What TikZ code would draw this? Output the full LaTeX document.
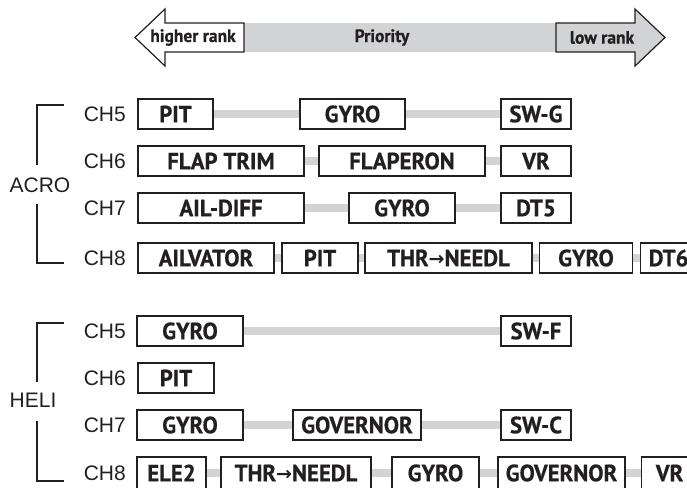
\documentclass[tikz,border=0pt]{standalone}
\usepackage{fontspec}
\usepackage{tikz}
\usetikzlibrary{positioning}
\newfontfamily\boxfont[FakeStretch=0.97,BoldFeatures={FakeBold=0.6}]{PT Sans}
\newfontfamily\labfont{Liberation Sans}
\newfontfamily\symfont{DejaVu Sans}
\definecolor{BarGray}{HTML}{D1D3D4}
\definecolor{InkDark}{HTML}{231F20}
\newcommand{\thrarrow}{{\symfont\fontsize{19}{19}\selectfont\raisebox{0.5pt}{→}}}

\begin{document}
\begin{tikzpicture}[
  x=1pt,y=-1pt,
  every node/.style={text=InkDark},
  fbox/.style={draw=InkDark,line width=1.2pt,fill=white,minimum height=30,
    inner sep=0pt,font=\boxfont\bfseries\fontsize{23.5}{23.5}\selectfont},
  lastrow/.style={minimum height=32},
  chlab/.style={anchor=east,inner sep=0pt,font=\labfont\fontsize{21}{21}\selectfont},
  modelab/.style={inner sep=0pt,font=\labfont\fontsize{21}{21}\selectfont},
  ranklab/.style={inner sep=0pt,font=\boxfont\bfseries\fontsize{18}{18}\selectfont},
  bar/.style={BarGray,line width=8pt},
  brk/.style={InkDark,line width=1.2pt}
]
\useasboundingbox (0,0) rectangle (687,487);
\clip (0,0) rectangle (687,487);

% priority arrow
\fill[BarGray] (244,23) rectangle (556,52);
\draw[InkDark,line width=1.2pt,fill=white]
  (244,23) -- (165,23) -- (165,9) -- (135,37.5) -- (165,66) -- (165,52) -- (244,52) -- cycle;
\draw[InkDark,line width=1.2pt,fill=BarGray]
  (556,23) -- (635,23) -- (635,9) -- (665,37.5) -- (635,66) -- (635,52) -- (556,52) -- cycle;
\node[ranklab] (hi) at (193,37.5) {higher rank};
\node[ranklab] (prio) at (382,37.5) {Priority};
\node[ranklab] (lo) at (602,37.5) {low rank};

% ACRO
\node[modelab] (acro) at (40,185) {ACRO};
\draw[brk] (64,105) -- (37,105) -- (37,165);
\draw[brk] (37,204) -- (37,263) -- (64,263);
\node[chlab] (a5) at (126,114) {CH5};
\node[chlab] (a6) at (126,161) {CH6};
\node[chlab] (a7) at (126,208) {CH7};
\node[chlab] (a8) at (126,258) {CH8};

\node[fbox,minimum width=75] (a5pit) at (175.5,114) {PIT};
\node[fbox,minimum width=105] (a5gyro) at (352.5,114) {GYRO};
\node[fbox,minimum width=70] (a5swg) at (536,114) {SW-G};
\draw[bar] (a5pit) -- (a5gyro); \draw[bar] (a5gyro) -- (a5swg);

\node[fbox,minimum width=166] (a6trim) at (221,161) {FLAP TRIM};
\node[fbox,minimum width=166] (a6flap) at (402,161) {FLAPERON};
\node[fbox,minimum width=70] (a6vr) at (536,161) {VR};
\draw[bar] (a6trim) -- (a6flap); \draw[bar] (a6flap) -- (a6vr);

\node[fbox,minimum width=166] (a7diff) at (221,208) {AIL-DIFF};
\node[fbox,minimum width=106] (a7gyro) at (402,208) {GYRO};
\node[fbox,minimum width=70] (a7dt5) at (536,208) {DT5};
\draw[bar] (a7diff) -- (a7gyro); \draw[bar] (a7gyro) -- (a7dt5);

\node[fbox,minimum width=136] (a8ailv) at (206,258) {AILVATOR};
\node[fbox,minimum width=76] (a8pit) at (320,258) {PIT};
\node[fbox,minimum width=167] (a8thr) at (448.5,258) {THR\thrarrow NEEDL};
\node[fbox,minimum width=93] (a8gyro) at (586,258) {GYRO};
\node[fbox,minimum width=56,anchor=west] (a8dt6) at (640,258) {DT6};
\draw[bar] (a8ailv) -- (a8pit); \draw[bar] (a8pit) -- (a8thr);
\draw[bar] (a8thr) -- (a8gyro); \draw[bar] (a8gyro) -- (a8dt6);

% HELI
\node[modelab] (heli) at (33,400) {HELI};
\draw[brk] (64,323) -- (37,323) -- (37,382);
\draw[brk] (37,421) -- (37,481) -- (64,481);
\node[chlab] (h5) at (126,331) {CH5};
\node[chlab] (h6) at (126,378) {CH6};
\node[chlab] (h7) at (126,425) {CH7};
\node[chlab] (h8) at (126,473) {CH8};

\node[fbox,minimum width=106] (h5gyro) at (190,331) {GYRO};
\node[fbox,minimum width=70] (h5swf) at (536,331) {SW-F};
\draw[bar] (h5gyro) -- (h5swf);

\node[fbox,minimum width=76] (h6pit) at (176,378) {PIT};

\node[fbox,minimum width=106] (h7gyro) at (190,425) {GYRO};
\node[fbox,minimum width=128] (h7gov) at (357,425) {GOVERNOR};
\node[fbox,minimum width=70] (h7swc) at (536,425) {SW-C};
\draw[bar] (h7gyro) -- (h7gov); \draw[bar] (h7gov) -- (h7swc);

\node[fbox,lastrow,minimum width=69] (h8ele) at (171.5,473) {ELE2};
\node[fbox,lastrow,minimum width=150] (h8thr) at (296,473) {THR\thrarrow NEEDL};
\node[fbox,lastrow,minimum width=87] (h8gyro) at (435.5,473) {GYRO};
\node[fbox,lastrow,minimum width=127] (h8gov) at (561.5,473) {GOVERNOR};
\node[fbox,lastrow,minimum width=56,anchor=west] (h8vr) at (641,473) {VR};
\draw[bar] (h8ele) -- (h8thr); \draw[bar] (h8thr) -- (h8gyro);
\draw[bar] (h8gyro) -- (h8gov); \draw[bar] (h8gov) -- (h8vr);
\end{tikzpicture}
\end{document}
